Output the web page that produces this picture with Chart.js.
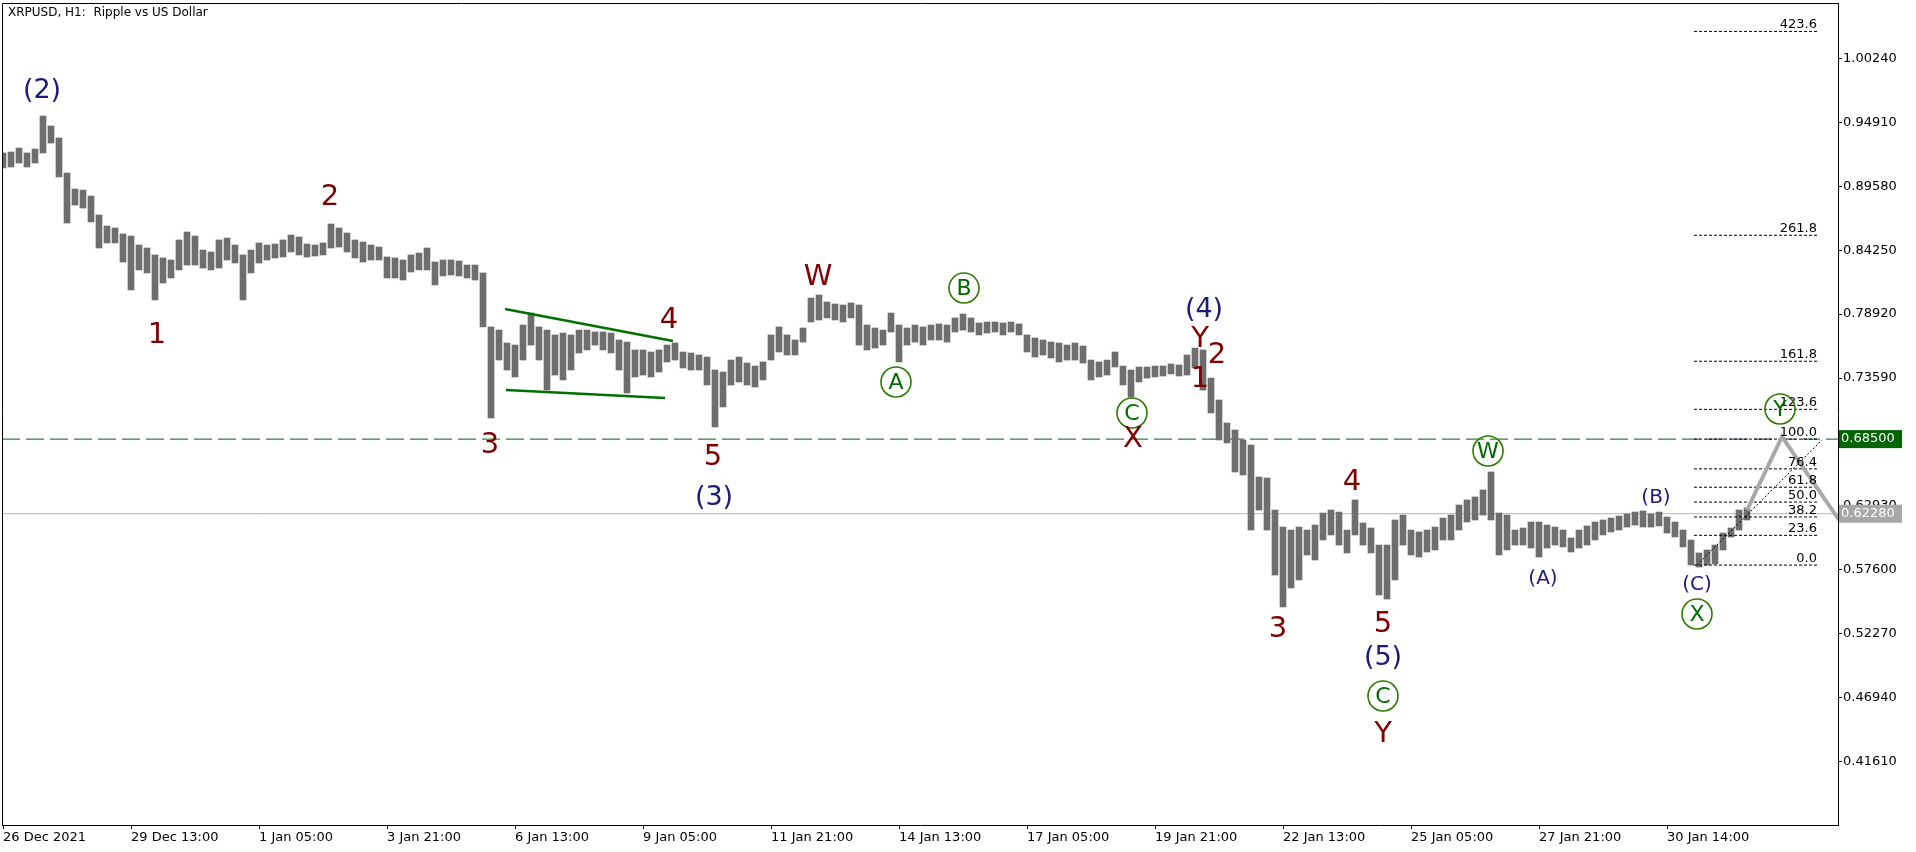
<!DOCTYPE html>
<html>
<head>
<meta charset="utf-8">
<script src="https://cdn.jsdelivr.net/npm/chart.js@4.4.1/dist/chart.umd.min.js"></script>
<style>
html, body { margin: 0; padding: 0; background: #fff; overflow: hidden; }
#wrap { width: 1916px; height: 852px; position: relative; }
</style>
</head>
<body>
<div id="wrap"><canvas id="chart"></canvas></div>
<script>
// XRPUSD H1 in 4 hour blocks (high / low of each block)
const stepHours = 4;
const highs = [
  0.9235, 0.9243, 0.9276, 0.9235, 0.9268, 0.9543, 0.9460, 0.9360, 0.9068, 0.8935,
  0.8926, 0.8876, 0.8718, 0.8626, 0.8610, 0.8560, 0.8543, 0.8468, 0.8443, 0.8385,
  0.8360, 0.8343, 0.8510, 0.8576, 0.8543, 0.8426, 0.8410, 0.8510, 0.8526, 0.8468,
  0.8385, 0.8426, 0.8485, 0.8468, 0.8476, 0.8510, 0.8551, 0.8535, 0.8476, 0.8468,
  0.8485, 0.8643, 0.8610, 0.8568, 0.8510, 0.8493, 0.8468, 0.8451, 0.8368, 0.8360,
  0.8343, 0.8385, 0.8401, 0.8443, 0.8326, 0.8343, 0.8343, 0.8335, 0.8301, 0.8301,
  0.8235, 0.7785, 0.7759, 0.7651, 0.7634, 0.7801, 0.7901, 0.7785, 0.7759, 0.7718,
  0.7734, 0.7718, 0.7759, 0.7759, 0.7743, 0.7743, 0.7734, 0.7676, 0.7659, 0.7593,
  0.7593, 0.7576, 0.7593, 0.7634, 0.7651, 0.7576, 0.7568, 0.7551, 0.7534, 0.7426,
  0.7409, 0.7509, 0.7534, 0.7484, 0.7459, 0.7493, 0.7718, 0.7785, 0.7718, 0.7676,
  0.7776, 0.8026, 0.8051, 0.7993, 0.7976, 0.7968, 0.7985, 0.7968, 0.7801, 0.7776,
  0.7759, 0.7901, 0.7801, 0.7776, 0.7801, 0.7785, 0.7801, 0.7810, 0.7801, 0.7860,
  0.7893, 0.7860, 0.7818, 0.7826, 0.7826, 0.7818, 0.7826, 0.7810, 0.7718, 0.7693,
  0.7676, 0.7659, 0.7651, 0.7634, 0.7651, 0.7626, 0.7509, 0.7493, 0.7509, 0.7576,
  0.7459, 0.7426, 0.7451, 0.7451, 0.7459, 0.7459, 0.7476, 0.7468, 0.7551, 0.7609,
  0.7593, 0.7359, 0.7176, 0.6984, 0.6926, 0.6843, 0.6801, 0.6534, 0.6526, 0.6259,
  0.6117, 0.6092, 0.6117, 0.6092, 0.6134, 0.6234, 0.6259, 0.6242, 0.6092, 0.6343,
  0.6151, 0.6109, 0.5967, 0.5967, 0.6176, 0.6217, 0.6092, 0.6076, 0.6092, 0.6117,
  0.6192, 0.6217, 0.6301, 0.6343, 0.6368, 0.6426, 0.6576, 0.6234, 0.6217, 0.6092,
  0.6109, 0.6159, 0.6159, 0.6134, 0.6117, 0.6092, 0.6026, 0.6092, 0.6126, 0.6159,
  0.6176, 0.6192, 0.6209, 0.6226, 0.6242, 0.6251, 0.6226, 0.6242, 0.6201, 0.6159,
  0.6092, 0.6009, 0.5901, 0.5926, 0.5967, 0.6067, 0.6109, 0.6259, 0.6276
];
const lows = [
  0.9110, 0.9118, 0.9151, 0.9118, 0.9151, 0.9235, 0.9318, 0.9035, 0.8651, 0.8801,
  0.8776, 0.8660, 0.8443, 0.8485, 0.8485, 0.8326, 0.8093, 0.8260, 0.8235, 0.8010,
  0.8151, 0.8193, 0.8260, 0.8301, 0.8301, 0.8276, 0.8260, 0.8276, 0.8343, 0.8318,
  0.8010, 0.8235, 0.8318, 0.8343, 0.8360, 0.8368, 0.8410, 0.8385, 0.8368, 0.8376,
  0.8385, 0.8443, 0.8451, 0.8410, 0.8360, 0.8326, 0.8343, 0.8343, 0.8193, 0.8193,
  0.8176, 0.8243, 0.8260, 0.8260, 0.8135, 0.8210, 0.8218, 0.8210, 0.8193, 0.8176,
  0.7785, 0.7026, 0.7509, 0.7426, 0.7368, 0.7509, 0.7634, 0.7509, 0.7259, 0.7384,
  0.7343, 0.7426, 0.7568, 0.7593, 0.7634, 0.7593, 0.7568, 0.7426, 0.7234, 0.7368,
  0.7384, 0.7368, 0.7409, 0.7493, 0.7509, 0.7443, 0.7426, 0.7426, 0.7301, 0.6951,
  0.7118, 0.7301, 0.7326, 0.7301, 0.7284, 0.7343, 0.7509, 0.7576, 0.7551, 0.7551,
  0.7659, 0.7826, 0.7843, 0.7860, 0.7843, 0.7826, 0.7860, 0.7634, 0.7593, 0.7609,
  0.7634, 0.7743, 0.7493, 0.7634, 0.7659, 0.7634, 0.7676, 0.7676, 0.7659, 0.7743,
  0.7759, 0.7743, 0.7718, 0.7734, 0.7743, 0.7718, 0.7743, 0.7718, 0.7576, 0.7534,
  0.7551, 0.7526, 0.7493, 0.7509, 0.7509, 0.7484, 0.7343, 0.7368, 0.7384, 0.7451,
  0.7301, 0.7201, 0.7326, 0.7359, 0.7368, 0.7376, 0.7393, 0.7376, 0.7384, 0.7443,
  0.7259, 0.7068, 0.6843, 0.6818, 0.6576, 0.6551, 0.6092, 0.6259, 0.6092, 0.5717,
  0.5451, 0.5609, 0.5676, 0.5884, 0.5842, 0.6009, 0.6051, 0.5967, 0.5901, 0.6051,
  0.5967, 0.5901, 0.5551, 0.5517, 0.5676, 0.5967, 0.5884, 0.5867, 0.5909, 0.5926,
  0.6009, 0.6009, 0.6092, 0.6159, 0.6176, 0.6217, 0.6176, 0.5884, 0.5926, 0.5967,
  0.5967, 0.5942, 0.5867, 0.5942, 0.5967, 0.5951, 0.5909, 0.5942, 0.5967, 0.6009,
  0.6051, 0.6076, 0.6092, 0.6117, 0.6134, 0.6117, 0.6117, 0.6126, 0.6067, 0.6034,
  0.5951, 0.5801, 0.5784, 0.5801, 0.5809, 0.5926, 0.6034, 0.6092, 0.6176
];

// time axis: hours counted from the first bar
const xTickHours = [0, 64, 128, 192, 256, 320, 384, 448, 512, 576, 640, 704, 768, 832];
const xTickLabels = ["26 Dec 2021", "29 Dec 13:00", "1 Jan 05:00", "3 Jan 21:00", "6 Jan 13:00",
  "9 Jan 05:00", "11 Jan 21:00", "14 Jan 13:00", "17 Jan 05:00", "19 Jan 21:00",
  "22 Jan 13:00", "25 Jan 05:00", "27 Jan 21:00", "30 Jan 14:00"];
const yTickValues = [1.00240, 0.94910, 0.89580, 0.84250, 0.78920, 0.73590,
  0.68260, 0.62930, 0.57600, 0.52270, 0.46940, 0.41610];

const bidPrice = 0.62280;
const levelPrice = 0.68500;

const fibNames = ["0.0", "23.6", "38.2", "50.0", "61.8", "76.4", "100.0", "123.6", "161.8", "261.8", "423.6"];
const fibPrices = [0.5800, 0.6048, 0.6201, 0.6325, 0.6449, 0.6602, 0.6850, 0.7098, 0.7499, 0.8549, 1.0248];
const fibFromHour = 845.5, fibToHour = 907;

// [hour, price] points of the drawn lines
const triangleTop = [[251, 0.7934], [335, 0.7668]];
const triangleBottom = [[251.5, 0.7259], [331, 0.7193]];
const fibDiagonal = [[847, 0.5801], [909.5, 0.6843]];
const forecastPath = [[872, 0.6259], [889.5, 0.6870], [918, 0.6176]];

// wave labels: text, hour, price, kind
const waveLabels = [
  ["(2)", 19.5, 0.9752, "navy"],
  ["1", 77, 0.7718, "red"],
  ["2", 163.5, 0.8868, "red"],
  ["3", 243.5, 0.6801, "red"],
  ["4", 333, 0.7843, "red"],
  ["5", 355, 0.6693, "red"],
  ["(3)", 355.5, 0.6359, "navy"],
  ["W", 407.5, 0.8201, "red"],
  ["A", 446.5, 0.7326, "ring"],
  ["B", 480.5, 0.8109, "ring"],
  ["C", 564.5, 0.7068, "ring"],
  ["X", 565, 0.6843, "red"],
  ["(4)", 600.5, 0.7926, "navy"],
  ["Y", 598.5, 0.7684, "red"],
  ["2", 607, 0.7551, "red"],
  ["1", 598.5, 0.7343, "red"],
  ["3", 637.5, 0.5267, "red"],
  ["4", 674.5, 0.6492, "red"],
  ["5", 690, 0.5301, "red"],
  ["(5)", 690, 0.5026, "navy"],
  ["C", 690, 0.4709, "ring"],
  ["Y", 690, 0.4392, "red"],
  ["W", 742.5, 0.6751, "ring"],
  ["(A)", 770, 0.5684, "navySmall"],
  ["(B)", 826.5, 0.6359, "navySmall"],
  ["(C)", 847, 0.5634, "navySmall"],
  ["X", 847, 0.5392, "ring"],
  ["Y", 888.5, 0.7101, "ring"]
];

const FONT = "'DejaVu Sans', sans-serif";
const labelStyle = {
  red: { color: "#800000", size: 29 },
  navy: { color: "#1b1b78", size: 27 },
  navySmall: { color: "#1b1b78", size: 20 },
  ring: { color: "#006a00", size: 22 }
};

const pts = arr => arr.map(p => ({ x: p[0], y: p[1] }));
const flatLine = (price, from, to) => [{ x: from, y: price }, { x: to, y: price }];

const datasets = [{
  type: "bar",
  data: highs.map((h, i) => ({ x: i * stepHours, y: [lows[i], h] })),
  backgroundColor: "#6e6e6e",
  barThickness: 6,
  order: 2
}, {
  type: "line", data: flatLine(levelPrice, -0.5, 917.5),
  borderColor: "#006400", borderWidth: 1, borderDash: [18, 6], pointRadius: 0, order: 3
}, {
  type: "line", data: flatLine(bidPrice, -0.5, 917.5),
  borderColor: "#b4b4b4", borderWidth: 1, pointRadius: 0, order: 4
}, {
  type: "line", data: pts(triangleTop),
  borderColor: "#007000", borderWidth: 2.5, pointRadius: 0, order: 1
}, {
  type: "line", data: pts(triangleBottom),
  borderColor: "#007000", borderWidth: 2.5, pointRadius: 0, order: 1
}, {
  type: "line", data: pts(fibDiagonal),
  borderColor: "#000", borderWidth: 1, borderDash: [2, 2], pointRadius: 0, order: 1
}, {
  type: "line", data: pts(forecastPath),
  borderColor: "#a9a9a9", borderWidth: 4, pointRadius: 0, order: 0
}];
fibPrices.forEach(p => {
  datasets.push({
    type: "line", data: flatLine(p, fibFromHour, fibToHour),
    borderColor: "#000", borderWidth: 1, borderDash: [3, 2], pointRadius: 0, order: 1
  });
});

const overlay = {
  id: "overlay",
  afterDraw(chart) {
    const c = chart.ctx, a = chart.chartArea;
    const xs = chart.scales.x, ys = chart.scales.y;
    c.save();
    // frame
    c.strokeStyle = "#000";
    c.lineWidth = 1;
    c.beginPath();
    c.moveTo(a.left + 0.5, a.bottom);
    c.lineTo(a.left + 0.5, a.top + 0.5);
    c.lineTo(a.right, a.top + 0.5);
    c.stroke();

    // title
    c.fillStyle = "#000";
    c.font = "12px " + FONT;
    c.textBaseline = "middle";
    c.textAlign = "left";
    c.fillText("XRPUSD, H1:  Ripple vs US Dollar", 8, 13);

    // fib level names
    c.font = "13px " + FONT;
    c.textAlign = "right";
    c.textBaseline = "alphabetic";
    fibNames.forEach((n, i) => {
      c.fillText(n, xs.getPixelForValue(fibToHour), ys.getPixelForValue(fibPrices[i]) - 3);
    });

    // wave labels
    c.textAlign = "center";
    c.textBaseline = "middle";
    waveLabels.forEach(([t, h, p, kind]) => {
      const st = labelStyle[kind];
      const x = xs.getPixelForValue(h), y = ys.getPixelForValue(p);
      c.fillStyle = st.color;
      c.font = st.size + "px " + FONT;
      if (kind === "ring") {
        c.beginPath();
        c.arc(x, y, 15, 0, Math.PI * 2);
        c.strokeStyle = "#2f7a00";
        c.lineWidth = 1.6;
        c.stroke();
        c.fillText(t, x, y + 1);
      } else {
        c.fillText(t, x, y);
      }
    });

    // price boxes on the right axis
    const box = (price, fill) => {
      const y = ys.getPixelForValue(price);
      c.fillStyle = fill;
      c.fillRect(a.right + 1, y - 9, 63, 18);
      c.fillStyle = "#fff";
      c.font = "13px " + FONT;
      c.textAlign = "left";
      c.fillText(price.toFixed(5), a.right + 3, y);
    };
    box(levelPrice, "#006400");
    box(bidPrice, "#a8a8a8");
    c.restore();
  }
};

new Chart(document.getElementById("chart"), {
  type: "bar",
  data: { datasets },
  options: {
    responsive: true,
    maintainAspectRatio: false,
    animation: false,
    events: [],
    layout: { padding: { left: 2, top: 3, right: 0, bottom: 0 } },
    plugins: { legend: { display: false }, tooltip: { enabled: false } },
    scales: {
      x: {
        type: "linear",
        min: -0.5,
        max: 917.5,
        offset: false,
        grid: { drawOnChartArea: false, drawTicks: true, tickLength: 4, color: "#000", offset: false },
        border: { display: true, color: "#000" },
        ticks: {
          autoSkip: false, maxRotation: 0, align: "start", padding: 1,
          color: "#000", font: { family: FONT, size: 13 },
          callback: (v) => {
            const i = xTickHours.indexOf(v);
            return i >= 0 ? xTickLabels[i] : "";
          }
        },
        afterBuildTicks: s => { s.ticks = xTickHours.map(v => ({ value: v })); },
        afterFit: s => { s.height = 27; s.paddingLeft = 0; s.paddingRight = 0; }
      },
      y: {
        position: "right",
        min: 0.36336,
        max: 1.0485,
        grid: { drawOnChartArea: false, drawTicks: true, tickLength: 4, color: "#000" },
        border: { display: true, color: "#000" },
        ticks: {
          autoSkip: false, padding: 1, color: "#000", font: { family: FONT, size: 13 },
          callback: v => Number(v).toFixed(5)
        },
        afterBuildTicks: s => { s.ticks = yTickValues.map(v => ({ value: v })); },
        afterFit: s => { s.width = 78; s.paddingTop = 0; s.paddingBottom = 0; }
      }
    }
  },
  plugins: [overlay]
});
</script>
</body>
</html>
